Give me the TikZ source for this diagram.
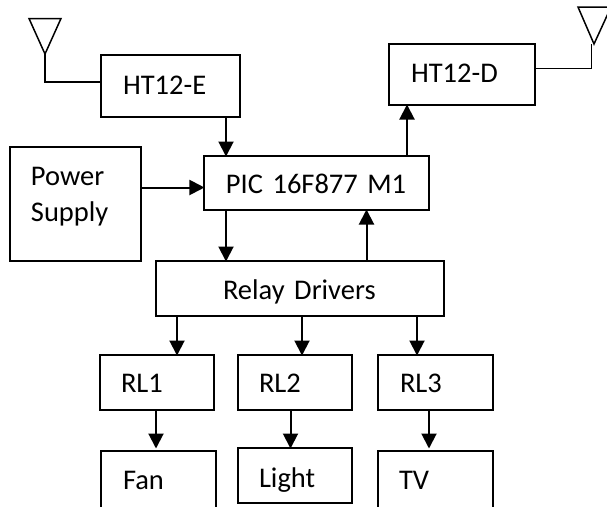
\documentclass[tikz,border=0pt]{standalone}
\usepackage{fontspec}
\setmainfont[WordSpace=0.85]{Carlito}
\usetikzlibrary{arrows.meta}
\tikzset{
  x=1pt,y=-1pt,
  box/.style n args={4}{draw=black,line width=2pt,outer sep=0pt,inner xsep=0pt,inner ysep=0pt,
    minimum width=#1pt,minimum height=#2pt,text width=#1pt,align=left,
    text height={2*#4*1pt+6pt},text depth=6pt,
    execute at begin node={\hspace*{#3pt}},font=\fontsize{28.5}{36}\selectfont},
  flow/.style={line width=2pt,-{Triangle[length=15pt,width=15pt]},shorten >=-0.5pt},
  wire/.style={line width=1.8pt,line join=miter},
  aerial/.style={line width=1.5pt,line join=miter},
}
\begin{document}
\begin{tikzpicture}
\useasboundingbox (0,0) rectangle (607,506);
\clip (0,0) rectangle (607,506);
\fill[white] (0,0) rectangle (607,506);
% boxes
\node[box={139}{61.5}{22}{8.1}] (enc) at (170.5,86.2) {HT12-E};
\node[box={146}{61}{22}{8.2}] (dec) at (462,74.5) {HT12-D};
\node[box={131.5}{114}{21}{0},text height=6pt,text depth=44pt] (psu) at (75.7,204) {Power\\\hspace*{21pt}Supply};
\node[box={225.5}{54}{22}{10.3}] (pic) at (316.7,183) {PIC 16F877 M1};
\node[box={288}{55}{67}{11.2}] (drv) at (300,288.5) {Relay Drivers};
\node[box={114}{55}{21}{9.8}] (rl1) at (157,382.5) {RL1};
\node[box={114}{55}{21}{9.8}] (rl2) at (295,382.5) {RL2};
\node[box={115}{55}{22}{9.8}] (rl3) at (435.5,382.5) {RL3};
\node[box={115}{58}{22}{9.7}] (fan) at (158.5,480) {Fan};
\node[box={114}{55}{21}{11.5}] (lig) at (295,475.5) {Light};
\node[box={115}{58}{21}{9.7}] (tv) at (435.5,480) {TV};
% arrows
\coordinate (xa) at (226,0);
\coordinate (xb) at (366.5,0);
\coordinate (xc) at (407,0);
\coordinate (xd) at (177,0);
\coordinate (xe) at (302,0);
\coordinate (xf) at (417,0);
\coordinate (xg) at (156,0);
\coordinate (xh) at (290.5,0);
\coordinate (xi) at (429,0);
\coordinate (ya) at (0,187.5);
\coordinate (yb) at (0,448);
\draw[flow] (enc.south -| xa) -- (pic.north -| xa);
\draw[flow] (psu.east |- ya) -- (pic.west |- ya);
\draw[flow] (pic.south -| xa) -- (drv.north -| xa);
\draw[flow] (drv.north -| xb) -- (pic.south -| xb);
\draw[flow] (pic.north -| xc) -- (dec.south -| xc);
\draw[flow] (drv.south -| xd) -- (rl1.north -| xd);
\draw[flow] (drv.south -| xe) -- (rl2.north -| xe);
\draw[flow] (drv.south -| xf) -- (rl3.north -| xf);
\draw[flow] (rl1.south -| xg) -- (xg |- yb);
\draw[flow] (rl2.south -| xh) -- (lig.north -| xh);
\draw[flow] (rl3.south -| xi) -- (xi |- yb);
% aerials
\coordinate (ant1) at (45,54);
\coordinate (ant2) at (594,44);
\coordinate (ant2w) at (591.5,44);
\coordinate (yc) at (0,82);
\coordinate (yd) at (0,68.5);
\draw[aerial] (29,18.5) -- (61,18.5) -- (ant1) -- cycle;
\draw[aerial] (578,7) -- (611,7) -- (ant2) -- cycle;
\draw[wire] (ant1) -- (ant1 |- yc) -- (enc.west |- yc);
\draw[wire] (dec.east |- yd) -- (ant2w |- yd) -- (ant2w);
\end{tikzpicture}
\end{document}
